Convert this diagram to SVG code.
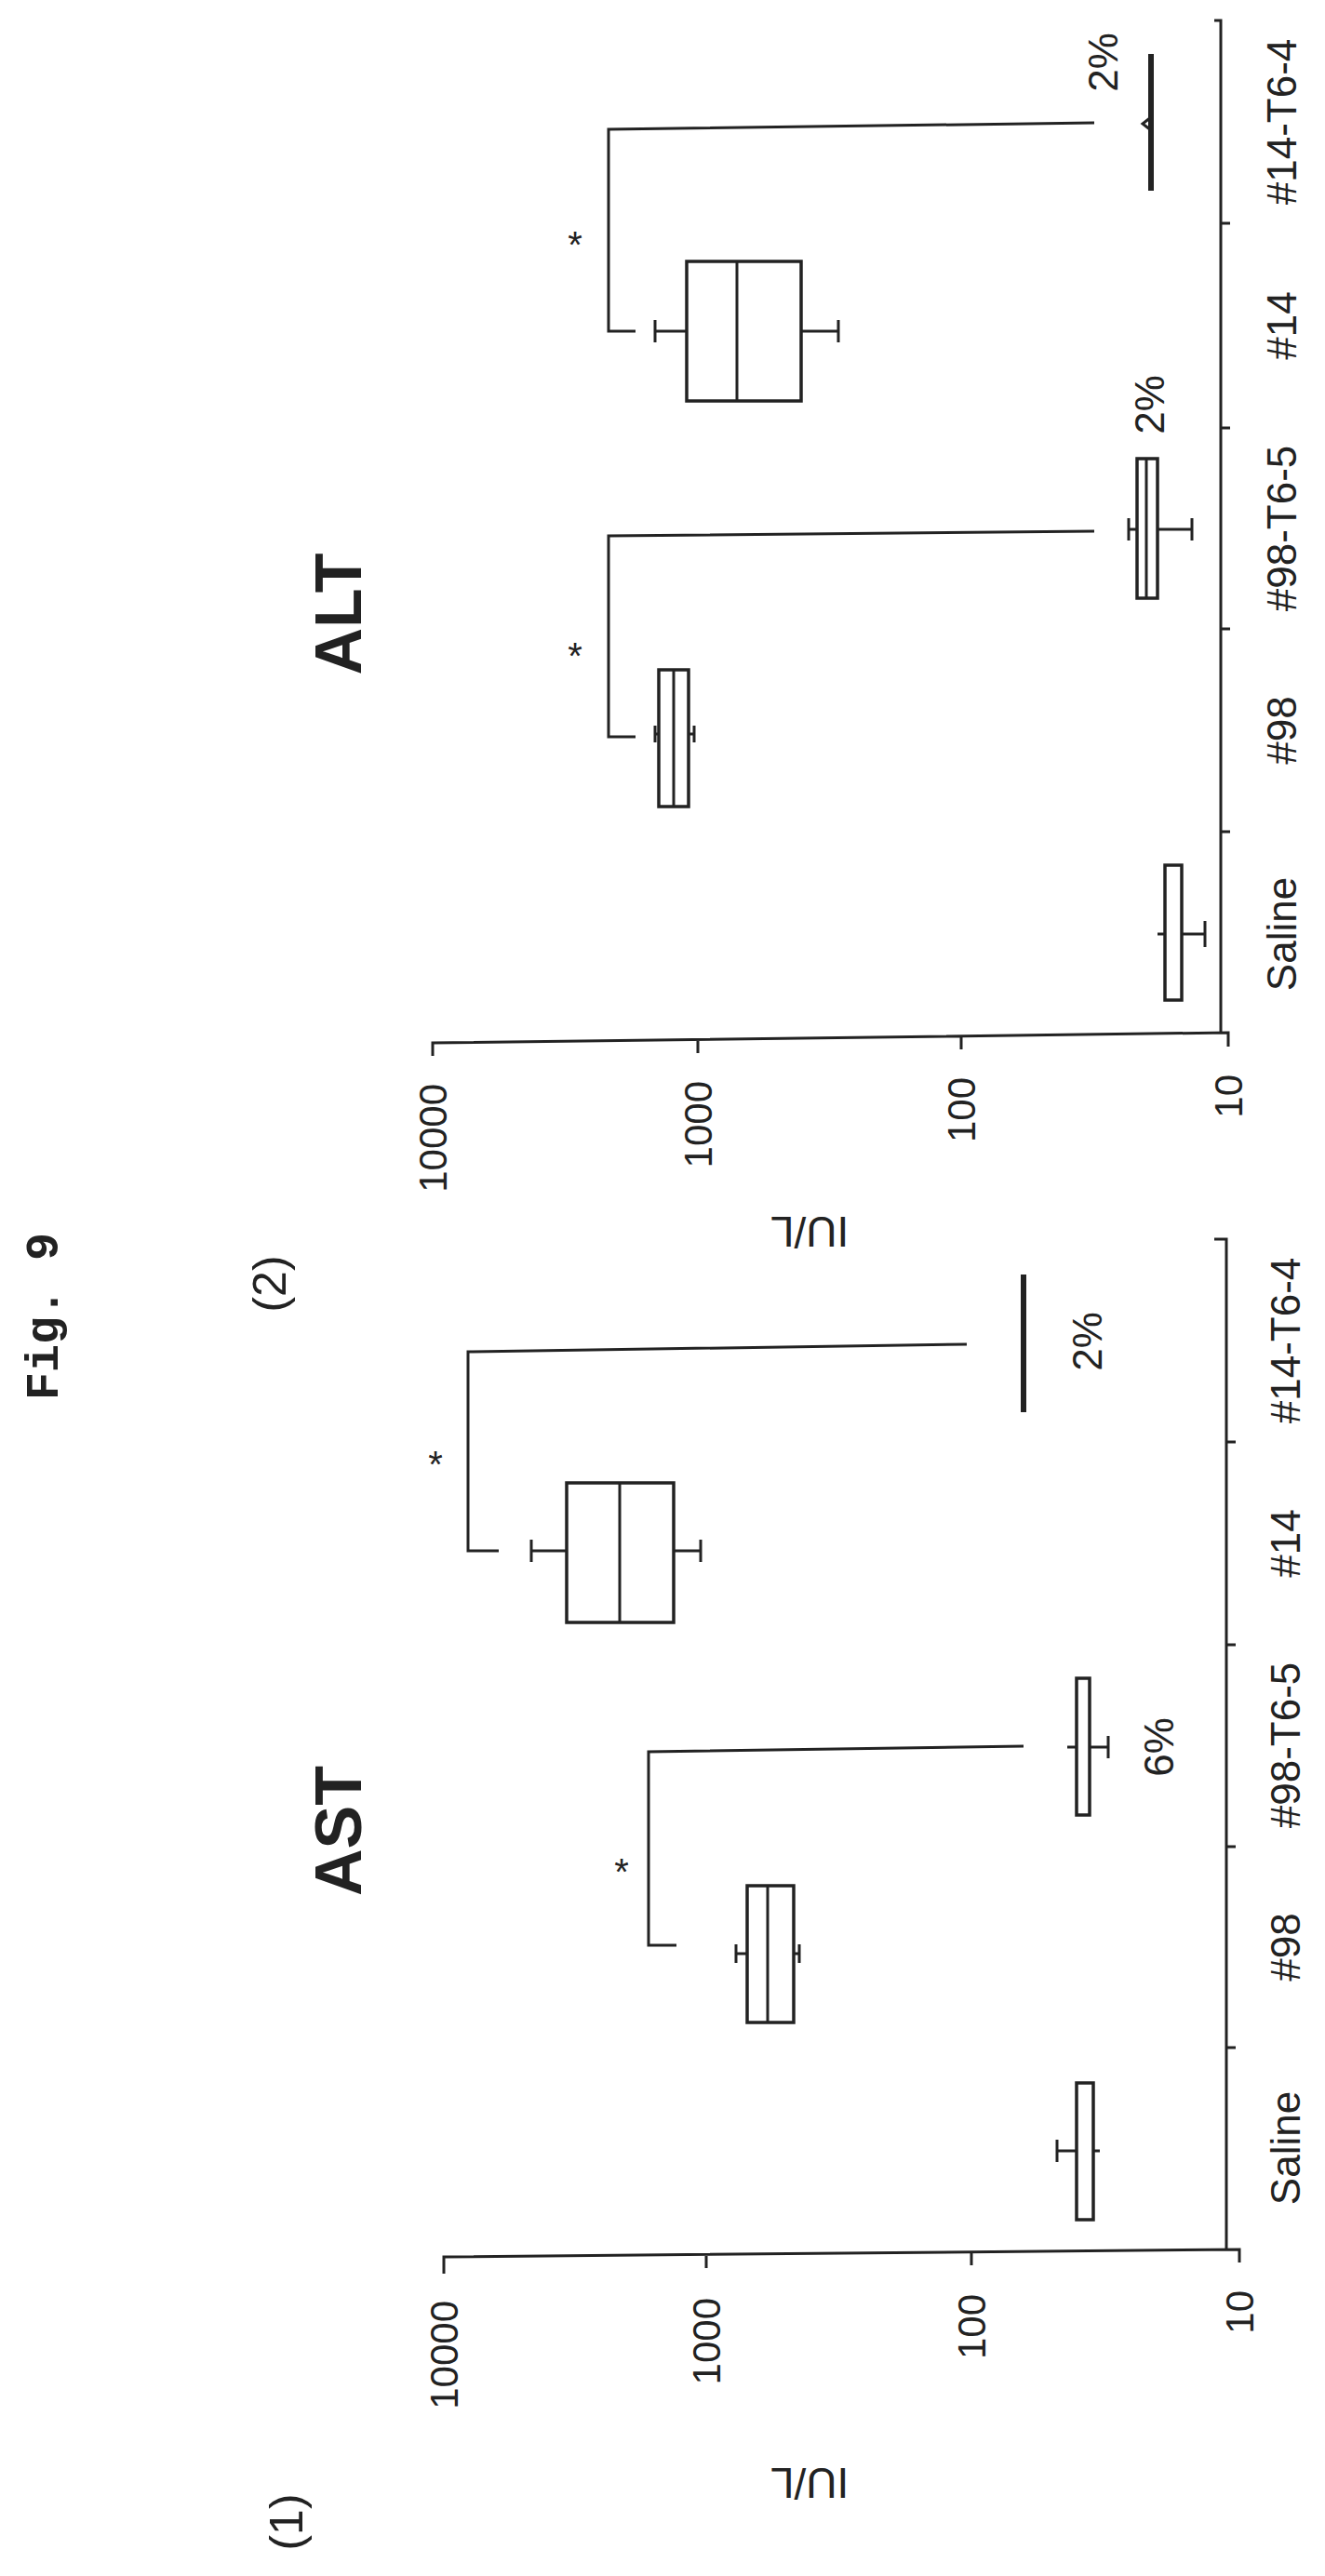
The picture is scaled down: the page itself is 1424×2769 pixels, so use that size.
<svg xmlns="http://www.w3.org/2000/svg" width="1424" height="2769" viewBox="0 0 1424 2769">
<style>
.ln{stroke:#222;stroke-width:3;fill:none}
.bx{stroke:#222;stroke-width:3.5;fill:#fff}
.thk{stroke:#222;stroke-width:6;fill:none}
.t{font-family:"Liberation Sans",Arial,sans-serif;fill:#222}
.cat{font-size:44px}
.num{font-size:42px}
.pct{font-size:44px}
.ttl{font-size:70px;font-weight:bold}
.ast{font-size:40px}
</style>
<rect width="1424" height="2769" fill="#fff"/>
<text class="t" style="font-family:'Liberation Mono',monospace;font-weight:bold;font-size:50px" text-anchor="middle" transform="translate(62,1415) rotate(-90)">Fig. 9</text>

<g id="panel2-axes">
<path class="ln" d="M465,1135 L465,1121 L1320,1110 L1320,1125 M750,1118 V1132 M1033,1114 V1128"/>
<path class="ln" d="M1305,22 H1312 V1110 M1312,240 H1322 M1312,460 H1322 M1312,676 H1322 M1312,894 H1322"/>
<text class="t num" text-anchor="end" transform="translate(480,1165) rotate(-90)">10000</text>
<text class="t num" text-anchor="end" transform="translate(765,1162) rotate(-90)">1000</text>
<text class="t num" text-anchor="end" transform="translate(1048,1158) rotate(-90)">100</text>
<text class="t num" text-anchor="end" transform="translate(1335,1155) rotate(-90)">10</text>
<text class="t" style="font-size:46px" text-anchor="middle" transform="translate(870,1308) rotate(180)">IU/L</text>
<text class="t" style="font-size:50px" text-anchor="middle" transform="translate(307,1380) rotate(-90)">(2)</text>
<text class="t ttl" text-anchor="middle" transform="translate(388,660) rotate(-90)">ALT</text>
<text class="t cat" text-anchor="middle" transform="translate(1393,1004) rotate(-90)">Saline</text>
<text class="t cat" text-anchor="middle" transform="translate(1393,785) rotate(-90)">#98</text>
<text class="t cat" text-anchor="middle" transform="translate(1393,568) rotate(-90)">#98-T6-5</text>
<text class="t cat" text-anchor="middle" transform="translate(1393,350) rotate(-90)">#14</text>
<text class="t cat" text-anchor="middle" transform="translate(1393,131) rotate(-90)">#14-T6-4</text>
</g>
<g id="alt-saline">
<rect class="bx" x="1252" y="930" width="18" height="145"/>
<path class="ln" d="M1270,1004 H1295 M1295,990 V1018 M1244,1004 H1252"/>
</g>
<g id="alt-98">
<rect class="bx" x="708" y="720" width="32" height="147"/>
<path class="ln" d="M724,720 V867 M704,789 H708 M740,789 H746 M704,780 V798 M746,780 V798"/>
</g>
<g id="alt-98t65">
<rect class="bx" x="1222" y="493" width="22" height="150"/>
<path class="ln" d="M1232,493 V643 M1213,569 H1222 M1244,569 H1281 M1213,557 V581 M1281,557 V581"/>
<text class="t pct" text-anchor="middle" transform="translate(1251,435) rotate(-90)">2%</text>
</g>
<g id="alt-14">
<rect class="bx" x="738" y="281" width="123" height="150"/>
<path class="ln" d="M792,281 V431 M704,356 H738 M704,344 V368 M861,356 H901 M901,344 V368"/>
</g>
<g id="alt-14t64">
<path class="thk" d="M1237,58 V205"/>
<path class="ln" d="M1237,126 L1228,133 L1237,140"/>
<text class="t pct" text-anchor="middle" transform="translate(1201,67) rotate(-90)">2%</text>
</g>

<g id="panel1-axes">
<path class="ln" d="M477,2444 L477,2426 L1332,2418 L1332,2432 M759,2424 V2438 M1044,2421 V2435"/>
<path class="ln" d="M1305,1332 H1318 V2418 M1318,1550 H1328 M1318,1768 H1328 M1318,1985 H1328 M1318,2201 H1328"/>
<text class="t num" text-anchor="end" transform="translate(492,2473) rotate(-90)">10000</text>
<text class="t num" text-anchor="end" transform="translate(774,2470) rotate(-90)">1000</text>
<text class="t num" text-anchor="end" transform="translate(1059,2466) rotate(-90)">100</text>
<text class="t num" text-anchor="end" transform="translate(1347,2462) rotate(-90)">10</text>
<text class="t" style="font-size:46px" text-anchor="middle" transform="translate(870,2653) rotate(180)">IU/L</text>
<text class="t" style="font-size:50px" text-anchor="middle" transform="translate(325,2711) rotate(-90)">(1)</text>
<text class="t ttl" text-anchor="middle" transform="translate(388,1968) rotate(-90)">AST</text>
<text class="t cat" text-anchor="middle" transform="translate(1397,2309) rotate(-90)">Saline</text>
<text class="t cat" text-anchor="middle" transform="translate(1397,2093) rotate(-90)">#98</text>
<text class="t cat" text-anchor="middle" transform="translate(1397,1876) rotate(-90)">#98-T6-5</text>
<text class="t cat" text-anchor="middle" transform="translate(1397,1659) rotate(-90)">#14</text>
<text class="t cat" text-anchor="middle" transform="translate(1397,1441) rotate(-90)">#14-T6-4</text>
</g>
<g id="ast-saline">
<rect class="bx" x="1157" y="2239" width="18" height="147"/>
<path class="ln" d="M1136,2312 H1157 M1136,2300 V2324 M1175,2312 H1182"/>
</g>
<g id="ast-98">
<rect class="bx" x="803" y="2027" width="50" height="147"/>
<path class="ln" d="M825,2027 V2174 M791,2100 H803 M791,2090 V2110 M853,2100 H859 M859,2090 V2110"/>
</g>
<g id="ast-98t65">
<rect class="bx" x="1157" y="1804" width="14" height="147"/>
<path class="ln" d="M1147,1878 H1157 M1171,1878 H1191 M1191,1866 V1890"/>
<text class="t pct" text-anchor="middle" transform="translate(1261,1878) rotate(-90)">6%</text>
</g>
<g id="ast-14">
<rect class="bx" x="609" y="1594" width="115" height="150"/>
<path class="ln" d="M666,1594 V1744 M571,1667 H609 M571,1655 V1679 M724,1667 H753 M753,1655 V1679"/>
</g>
<g id="ast-14t64">
<path class="thk" d="M1100,1370 V1518"/>
<text class="t pct" text-anchor="middle" transform="translate(1184,1442) rotate(-90)">2%</text>
</g>

<g id="connectors">
<path class="ln" d="M683,792 H654 V576 L1176,571"/>
<path class="ln" d="M683,356 H654 V139 L1176,132"/>
<path class="ln" d="M536,1667 H503 V1453 L1039,1445"/>
<path class="ln" d="M727,2091 H697 V1883 L1100,1877"/>
<text class="t ast" text-anchor="middle" x="618" y="719">*</text>
<text class="t ast" text-anchor="middle" x="618" y="277">*</text>
<text class="t ast" text-anchor="middle" x="468" y="1588">*</text>
<text class="t ast" text-anchor="middle" x="668" y="2026">*</text>
</g>
</svg>
